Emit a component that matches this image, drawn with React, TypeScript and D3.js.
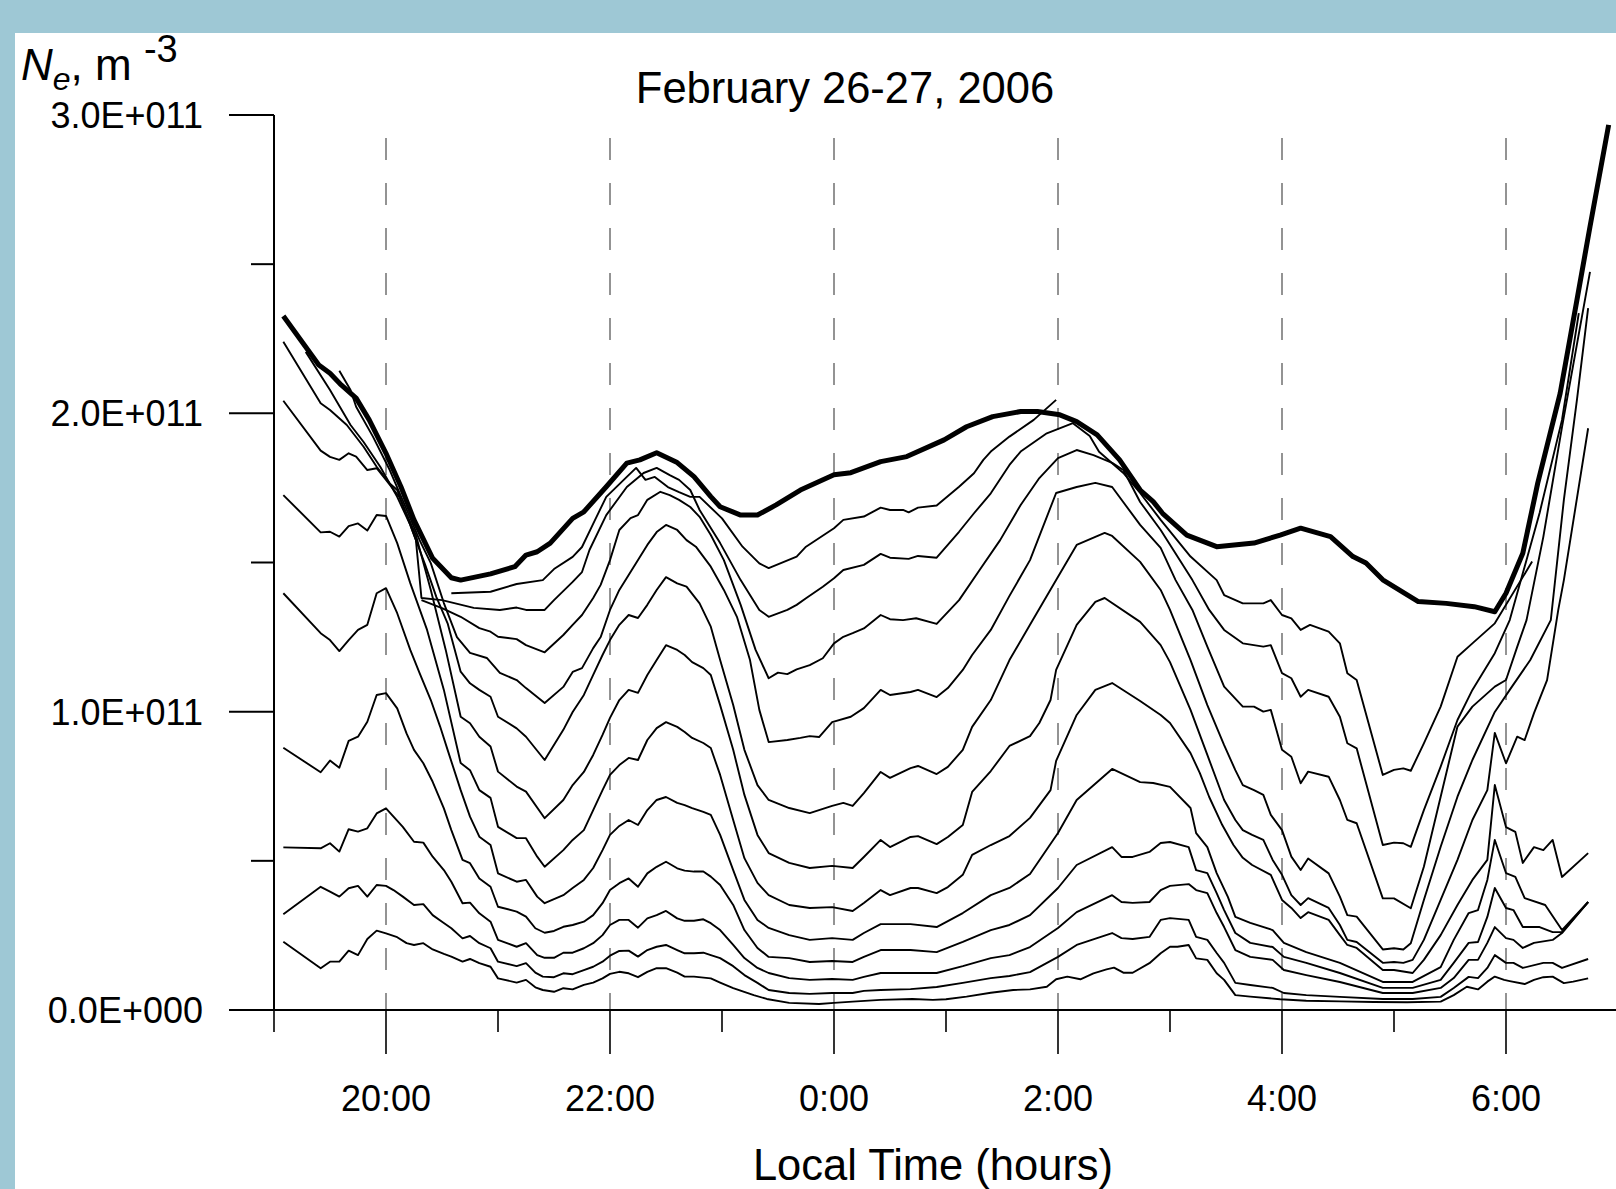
import React from "react";
import * as d3 from "d3";

// Time: minutes after 19:00 LT.  Ne: units of 1e9 m^-3.
type P = [number, number];

const ne00: P[] = [[5,232.6],[24,216.2],[30,213.4],[36,209.5],[44,205.1],[51,197.8],[60,186.6],[68,175.4],[75,164.3],[85,151.4],[95,144.9],[100,144.1],[116,146.2],[129,148.6],[135,152.5],[141,153.6],[148,156.5],[160,164.8],[166,167.0],[178,175.4],[189,183.3],[196,184.4],[205,186.8],[216,183.5],[225,178.8],[234,172.1],[239,168.7],[250,165.9],[259,165.9],[269,169.3],[282,174.3],[300,179.4],[309,180.1],[325,183.8],[339,185.5],[359,191.1],[371,195.5],[385,198.9],[400,200.6],[409,200.6],[421,199.5],[430,197.2],[441,192.8],[453,184.4],[464,174.3],[471,170.4],[476,166.5],[489,159.2],[505,155.3],[525,156.5],[539,159.2],[550,161.5],[566,158.7],[578,152.0],[585,149.8],[594,144.2],[613,136.9],[628,136.3],[643,135.2],[654,133.5],[660,139.7],[669,153.1],[677,176.6],[689,206.7],[698,238.0],[705,262.6],[715,296.7]];

const ne01: P[] = [[95,139.7],[116,140.2],[130,142.8],[144,144.1],[150,147.8],[160,151.9],[165,155.2],[172,164.3],[178,172.0],[189,178.7],[194,181.7],[199,177.7],[204,178.7],[211,175.3],[217,173.6],[223,172.0],[228,172.0],[240,164.8],[251,155.3],[260,149.7],[265,148.1],[280,152.0],[285,155.3],[300,161.5],[305,164.3],[316,165.4],[325,168.4],[330,167.6],[337,167.6],[340,166.8],[345,168.4],[355,169.1],[367,175.4],[375,179.9],[380,184.4],[384,187.2],[394,192.2],[407,197.8],[419,204.5]];

const ne02: P[] = [[17,220.6],[30,207.8],[41,196.1],[48,190.4],[57,182.0],[66,172.0],[73,162.6],[76,157.6],[79,138.1],[90,137.4],[107,134.8],[121,134.1],[130,134.9],[135,134.1],[145,134.1],[150,137.4],[160,143.5],[165,146.8],[169,154.2],[178,165.9],[189,175.3],[198,180.0],[205,181.7],[212,179.3],[217,177.7],[223,174.3],[228,167.6],[239,156.5],[250,144.1],[260,134.1],[265,131.8],[275,134.1],[280,135.8],[285,138.0],[294,141.9],[300,144.7],[305,147.5],[316,149.2],[325,152.9],[330,151.6],[340,151.2],[345,152.2],[355,151.6],[367,160.3],[375,166.5],[384,173.2],[394,182.7],[400,187.2],[414,193.3],[428,196.7],[437,192.4],[442,187.1],[455,180.0],[464,173.3],[475,164.3],[491,152.0],[505,144.1],[509,139.1],[519,136.3],[530,136.3],[534,137.4],[540,132.4],[545,131.3],[550,127.4],[555,129.1],[565,126.8],[571,122.9],[575,112.9],[580,110.6],[594,78.8],[600,80.5],[605,81.0],[609,80.2],[616,89.4],[625,101.7],[634,118.4],[642,122.9],[654,129.6],[674,150.3]];

const ne03: P[] = [[79,137.4],[90,134.7],[100,131.8],[110,128.0],[116,126.8],[120,125.1],[130,124.3],[135,122.3],[145,119.9],[155,125.7],[160,129.1],[165,132.4],[171,138.1],[175,142.5],[180,150.8],[185,160.9],[191,164.9],[195,165.9],[200,171.0],[207,173.7],[212,172.6],[217,171.0],[223,168.6],[228,165.3],[234,159.2],[241,150.8],[250,135.8],[258,120.7],[265,111.2],[270,113.1],[275,112.6],[280,114.2],[287,115.6],[294,117.9],[300,122.9],[305,125.1],[310,126.3],[316,127.9],[325,132.4],[330,131.0],[337,130.7],[344,131.3],[355,129.4],[367,137.4],[378,147.5],[389,157.5],[400,169.3],[410,178.3],[420,185.0],[430,187.7],[439,186.0],[449,183.4],[455,181.0],[464,170.3],[475,160.9],[492,144.1],[501,134.1],[509,127.4],[519,122.9],[530,121.8],[534,122.3],[540,112.9],[545,111.2],[550,105.0],[554,107.3],[565,105.0],[571,98.3],[575,89.4],[580,87.7],[594,55.3],[600,56.1],[605,55.9],[609,54.7],[616,67.0],[625,81.6],[634,97.2],[642,107.3],[654,119.6],[662,130.7],[678,166.6],[690,197.8],[699,233.6]];

const ne04: P[] = [[35,214.3],[41,207.8],[44,202.2],[53,192.2],[62,181.0],[70,169.3],[78,157.5],[84,149.8],[91,136.4],[98,125.0],[105,119.7],[114,118.0],[121,113.0],[130,110.6],[135,107.9],[145,102.9],[155,108.3],[160,113.3],[165,114.6],[171,121.3],[175,125.0],[180,134.1],[185,140.8],[190,145.8],[195,150.8],[200,155.9],[205,160.2],[210,162.6],[216,160.9],[221,157.5],[226,155.3],[234,148.6],[241,140.8],[248,131.8],[255,117.3],[260,100.6],[265,89.8],[275,90.5],[282,91.2],[287,91.8],[292,91.5],[299,96.5],[309,98.3],[316,101.2],[325,107.3],[330,105.6],[341,106.6],[345,107.3],[355,104.9],[361,107.9],[369,114.0],[374,119.0],[384,127.4],[394,138.8],[405,150.8],[419,173.3],[430,175.3],[440,176.7],[449,175.3],[464,162.6],[475,154.9],[483,144.1],[492,134.1],[500,121.8],[509,108.4],[519,101.7],[525,101.7],[530,100.0],[534,100.6],[540,87.2],[545,84.9],[550,76.0],[554,79.9],[565,78.2],[571,70.4],[575,63.7],[580,62.6],[594,37.4],[600,37.4],[609,34.1],[616,48.0],[625,71.5],[634,95.0],[642,101.7],[654,108.4],[660,110.6],[666,121.7],[671,130.7],[680,158.6],[690,195.4],[705,247.4]];

const ne05: P[] = [[5,224.0],[25,203.4],[30,201.1],[39,196.1],[48,188.8],[55,182.1],[62,176.5],[66,174.3],[73,162.6],[81,149.2],[87,138.4],[93,129.6],[100,113.4],[105,109.5],[110,107.3],[116,105.0],[120,98.3],[130,94.4],[135,91.6],[145,83.8],[155,93.9],[160,99.9],[166,105.6],[171,112.3],[176,119.0],[180,124.0],[185,129.1],[190,132.4],[195,131.4],[200,135.8],[205,140.8],[210,145.1],[216,143.0],[221,141.9],[228,136.3],[234,128.5],[239,117.3],[246,102.2],[252,87.2],[259,75.4],[265,70.4],[276,67.7],[287,66.0],[299,68.4],[305,69.4],[310,68.4],[316,72.7],[325,79.8],[330,77.8],[341,81.1],[345,81.8],[355,79.1],[361,81.5],[369,87.2],[374,94.9],[384,103.9],[394,117.3],[405,129.1],[419,144.1],[430,155.9],[440,158.6],[445,159.9],[449,158.9],[464,150.2],[475,140.8],[480,134.1],[491,117.3],[500,102.2],[509,88.8],[515,80.4],[519,75.4],[525,73.7],[530,72.1],[534,65.4],[540,60.3],[545,51.4],[550,46.9],[554,50.8],[565,45.8],[571,38.0],[575,31.8],[580,31.3],[594,20.3],[600,20.7],[605,20.3],[609,22.4],[616,36.9],[625,54.7],[634,71.5],[642,83.8],[654,99.9],[662,107.3],[673,117.3],[684,130.7],[691,171.0],[698,204.5],[704,235.3]];

const ne06: P[] = [[5,204.2],[25,187.5],[30,185.4],[35,184.4],[40,186.6],[44,185.5],[50,181.0],[55,181.6],[60,177.7],[67,172.1],[76,159.2],[84,140.8],[92,120.7],[100,98.3],[105,96.1],[110,91.6],[116,88.3],[120,79.9],[130,74.9],[135,73.2],[145,64.3],[155,70.4],[160,75.4],[166,79.8],[171,85.5],[176,92.2],[180,97.9],[185,103.9],[190,107.3],[195,106.3],[200,112.3],[205,117.3],[210,122.3],[216,120.7],[220,119.0],[224,116.6],[230,114.6],[234,112.3],[239,102.2],[246,87.2],[252,72.1],[259,58.7],[265,52.6],[276,49.3],[287,47.6],[299,48.3],[310,47.6],[316,51.3],[325,57.0],[330,54.6],[341,58.0],[345,58.3],[355,55.6],[361,58.0],[369,62.0],[374,73.1],[384,80.1],[394,88.5],[405,91.8],[410,96.2],[416,103.9],[419,114.0],[430,129.1],[440,136.8],[445,138.1],[464,130.1],[475,122.3],[480,116.6],[491,100.6],[500,85.5],[509,70.4],[515,63.7],[519,60.3],[524,58.7],[530,57.0],[535,50.3],[540,45.3],[545,38.5],[550,35.2],[554,37.5],[565,34.2],[571,28.5],[575,23.5],[580,22.8],[594,15.8],[600,16.1],[605,15.8],[610,16.8],[616,23.5],[625,36.9],[634,50.3],[642,63.7],[650,73.7],[654,92.9],[660,82.7],[666,91.6],[670,90.5],[675,99.5],[682,110.6],[688,134.1],[691,144.1],[704,195.0]];

const ne07: P[] = [[5,172.6],[25,160.1],[30,160.3],[35,158.7],[40,162.2],[45,163.1],[50,160.7],[55,165.9],[60,165.6],[66,156.5],[73,143.1],[82,127.4],[91,107.3],[100,82.8],[105,80.4],[110,73.7],[116,71.1],[120,61.4],[130,57.6],[135,57.6],[141,51.4],[145,48.0],[155,53.6],[160,57.0],[166,60.3],[171,67.0],[176,73.7],[180,78.8],[185,82.1],[190,84.5],[195,83.8],[200,90.5],[205,94.5],[210,96.5],[216,94.9],[220,93.2],[224,91.2],[230,89.5],[234,87.8],[239,78.8],[246,63.7],[252,50.9],[259,42.6],[265,38.5],[276,35.2],[287,34.2],[299,34.5],[310,33.2],[316,35.9],[325,40.2],[330,38.5],[341,40.9],[345,40.9],[355,39.2],[361,41.2],[369,45.3],[374,52.0],[384,55.3],[394,58.3],[405,64.4],[416,73.7],[419,83.5],[430,98.9],[440,107.3],[449,109.6],[464,103.6],[475,98.9],[480,96.2],[491,86.1],[496,79.4],[501,71.4],[508,62.0],[514,55.3],[519,51.0],[524,48.6],[534,45.3],[540,36.9],[545,34.2],[550,30.8],[554,32.8],[565,30.2],[571,25.1],[575,21.8],[580,20.8],[594,13.4],[600,13.4],[610,12.4],[616,16.8],[625,25.1],[634,35.2],[642,43.6],[650,50.3],[654,75.4],[660,61.3],[665,59.7],[669,49.3],[675,54.6],[680,53.6],[685,57.0],[690,44.6],[704,52.6]];

const ne08: P[] = [[5,139.7],[25,126.3],[30,124.0],[35,120.3],[40,124.0],[45,127.4],[50,129.1],[55,139.7],[60,141.4],[66,133.0],[73,120.7],[78,112.9],[84,103.9],[89,95.0],[93,87.2],[100,73.7],[105,64.8],[110,58.1],[116,55.3],[120,45.8],[130,43.0],[135,43.6],[141,38.0],[145,35.8],[155,38.5],[160,40.9],[166,43.6],[171,47.6],[176,53.6],[180,58.7],[185,61.7],[190,63.7],[195,62.0],[200,67.0],[205,70.4],[210,71.4],[216,69.4],[220,68.7],[224,67.7],[230,66.4],[234,65.4],[239,58.7],[246,46.9],[252,36.9],[259,30.2],[265,27.5],[276,25.1],[287,23.5],[299,24.1],[310,23.5],[316,25.8],[325,28.8],[341,28.8],[355,27.8],[369,32.5],[384,38.5],[394,40.9],[405,45.6],[420,59.3],[430,70.4],[449,80.8],[464,76.4],[471,76.1],[480,74.8],[491,67.7],[494,59.3],[500,54.6],[505,45.9],[511,37.9],[515,31.2],[523,29.2],[535,26.8],[541,22.5],[553,19.4],[571,15.8],[594,9.4],[610,9.4],[625,14.4],[632,23.5],[640,32.5],[645,33.5],[650,43.6],[654,57.0],[660,45.9],[665,44.6],[670,37.5],[681,35.2],[690,26.8],[704,36.2]];

const ne09: P[] = [[5,87.9],[25,79.7],[30,83.6],[35,81.2],[40,90.2],[45,91.6],[50,96.6],[55,105.6],[60,106.2],[66,101.1],[71,92.7],[75,87.2],[80,82.7],[85,76.5],[91,67.6],[95,60.3],[101,50.3],[105,49.2],[110,44.1],[116,41.3],[120,34.6],[130,33.0],[135,31.3],[140,27.4],[145,25.9],[150,26.5],[155,27.9],[160,28.5],[166,29.6],[171,31.8],[176,35.8],[180,40.2],[185,42.5],[190,44.1],[195,41.3],[200,45.8],[205,48.0],[210,49.7],[216,47.5],[220,46.7],[225,46.4],[230,46.4],[234,44.7],[239,41.9],[246,35.2],[252,26.8],[259,20.8],[265,17.8],[276,17.4],[287,16.1],[299,16.4],[310,16.1],[316,17.8],[325,20.1],[341,20.1],[355,19.4],[369,22.8],[384,26.8],[394,28.5],[405,31.8],[420,40.9],[430,48.6],[449,54.6],[454,51.3],[460,51.3],[469,53.0],[475,56.0],[480,56.3],[490,54.6],[494,46.9],[500,45.9],[505,39.2],[509,33.5],[515,25.8],[523,22.5],[535,21.1],[541,17.8],[553,15.8],[571,12.4],[594,7.4],[610,7.4],[625,10.1],[632,15.8],[640,22.5],[645,22.8],[650,31.2],[654,40.9],[660,34.2],[664,33.5],[669,27.8],[678,27.8],[685,26.1],[690,26.1],[704,36.2]];

const ne10: P[] = [[5,54.5],[25,54.2],[30,55.9],[35,53.1],[40,60.6],[45,59.8],[50,60.9],[55,65.9],[60,67.6],[69,61.4],[75,56.4],[80,56.1],[85,51.4],[91,46.9],[95,43.0],[101,35.8],[105,36.0],[110,32.4],[116,29.6],[120,23.5],[130,21.2],[135,22.4],[141,18.4],[145,17.5],[150,17.5],[155,19.2],[160,19.2],[166,20.7],[171,22.4],[176,25.1],[180,28.5],[185,30.2],[190,30.2],[195,27.6],[200,30.7],[205,31.8],[210,33.2],[216,30.7],[220,29.9],[225,29.9],[230,30.4],[234,29.1],[239,26.8],[246,21.8],[252,17.4],[259,14.1],[265,12.4],[276,10.7],[287,10.1],[299,10.4],[310,10.1],[316,11.1],[325,12.4],[341,12.4],[355,12.4],[369,14.7],[384,17.4],[394,18.4],[405,21.1],[420,27.5],[430,32.8],[449,38.5],[454,36.2],[460,35.9],[469,36.2],[475,40.2],[480,41.6],[490,42.2],[494,40.2],[500,39.2],[505,32.5],[509,27.8],[515,20.1],[523,17.8],[535,16.8],[541,13.4],[553,11.7],[571,9.4],[594,5.7],[610,5.7],[625,7.4],[632,10.7],[640,16.8],[645,16.8],[650,22.5],[654,27.8],[660,24.1],[664,23.5],[669,20.8],[675,22.5],[685,23.5],[690,25.8],[704,36.2]];

const ne11: P[] = [[5,32.1],[25,41.3],[30,39.7],[35,38.0],[40,40.8],[45,41.6],[50,38.0],[55,41.9],[60,41.6],[64,40.2],[69,38.0],[75,35.2],[80,35.5],[85,31.8],[90,29.6],[95,27.4],[101,24.0],[105,24.8],[110,22.4],[116,20.7],[120,16.2],[130,14.7],[135,15.7],[140,12.5],[144,11.2],[150,11.0],[155,12.3],[160,12.0],[166,13.4],[171,14.5],[176,16.2],[180,18.2],[185,19.8],[190,19.9],[195,17.9],[200,20.1],[205,21.2],[210,21.8],[216,20.1],[220,19.0],[225,19.0],[230,19.2],[234,18.4],[239,17.4],[246,14.7],[252,11.7],[259,9.1],[265,6.7],[276,5.7],[287,5.4],[299,5.7],[310,5.7],[316,6.4],[325,6.7],[341,7.0],[355,7.7],[369,9.1],[384,10.7],[394,11.4],[405,12.7],[420,17.8],[430,21.8],[449,25.8],[454,24.1],[460,23.8],[469,24.5],[475,30.2],[480,30.8],[490,30.2],[494,24.5],[500,23.5],[505,19.1],[509,15.8],[515,9.1],[523,8.4],[535,7.4],[541,5.7],[553,5.0],[571,4.4],[594,3.7],[610,3.7],[625,4.4],[632,7.4],[640,11.1],[645,10.7],[650,14.1],[654,18.4],[660,15.8],[664,15.8],[669,14.1],[680,15.8],[685,15.8],[690,14.1],[704,17.1]];

const ne12: P[] = [[5,22.9],[25,14.0],[30,16.2],[35,16.2],[40,19.9],[45,18.4],[50,23.8],[55,26.6],[60,25.7],[66,24.4],[71,22.4],[75,21.8],[80,22.4],[85,20.3],[91,18.8],[95,17.9],[101,16.2],[105,17.1],[110,15.7],[116,14.5],[120,10.6],[130,9.2],[135,10.1],[140,7.6],[144,6.7],[150,6.1],[155,7.3],[160,6.9],[166,8.4],[171,9.2],[176,10.6],[180,12.1],[185,12.8],[190,12.3],[195,11.0],[200,12.8],[205,14.0],[210,14.0],[216,12.5],[220,11.2],[225,11.2],[234,10.6],[239,9.2],[246,7.3],[257,5.0],[264,3.7],[276,2.4],[292,2.0],[300,2.4],[310,2.8],[325,3.4],[342,3.7],[353,3.4],[360,3.6],[371,4.5],[384,5.8],[396,6.7],[405,6.9],[414,7.8],[419,10.3],[425,11.2],[432,10.3],[439,12.3],[446,13.6],[450,14.2],[455,12.5],[460,12.5],[469,15.7],[475,19.0],[480,21.2],[484,21.2],[490,21.8],[494,17.3],[500,16.8],[505,12.3],[509,10.1],[515,5.0],[523,4.5],[539,3.6],[553,3.1],[571,2.9],[589,2.7],[607,2.6],[625,2.8],[632,5.0],[639,7.8],[645,6.9],[650,9.5],[654,11.2],[659,10.1],[662,9.7],[670,8.7],[675,10.1],[680,11.0],[685,11.2],[691,9.0],[696,9.5],[704,10.6]];

const thinSeries: P[][] = [ne01, ne02, ne03, ne04, ne05, ne06, ne07, ne08, ne09, ne10, ne11, ne12];

const xMajorTicks = [60, 180, 300, 420, 540, 660];
const xMajorLabels = ["20:00", "22:00", "0:00", "2:00", "4:00", "6:00"];
const xMinorTicks = [0, 120, 240, 360, 480, 600];
const yMajorTicks = [0, 100, 200, 300];
const yMajorLabels = ["0.0E+000", "1.0E+011", "2.0E+011", "3.0E+011"];
const yMinorTicks = [50, 150, 250];

const title = "February 26-27, 2006";
const xTitle = "Local Time (hours)";

const W = 1616;
const H = 1189;
const FONT = "'Liberation Sans', Arial, Helvetica, sans-serif";

export default function App() {
  const x = d3.scaleLinear().domain([0, 720]).range([274, 274 + 720 * (112 / 60)]);
  const y = d3.scaleLinear().domain([0, 300]).range([1010, 115]);
  const line = d3
    .line<P>()
    .x((d) => x(d[0]))
    .y((d) => y(d[1]));

  const x0 = x(0);
  const y0 = y(0);

  return (
    <div>
      <style>{"html,body{margin:0;padding:0;overflow:hidden;background:#fff}"}</style>
      <svg width={W} height={H} style={{ display: "block" }} fontFamily={FONT}>
        <rect x={0} y={0} width={W} height={H} fill="#ffffff" />
        <rect x={0} y={0} width={W} height={33} fill="#9ec8d5" />
        <rect x={0} y={0} width={15} height={H} fill="#9ec8d5" />

        {/* dashed verticals at major hours */}
        {xMajorTicks.map((t) => (
          <line
            key={"g" + t}
            x1={x(t)}
            x2={x(t)}
            y1={y(292.3)}
            y2={y0}
            stroke="#707070"
            strokeWidth={1.5}
            strokeDasharray="22 23"
          />
        ))}

        {/* series */}
        {thinSeries.map((s, i) => (
          <path
            key={"s" + i}
            d={line(s) || ""}
            fill="none"
            stroke="#000"
            strokeWidth={1.9}
            strokeLinejoin="round"
          />
        ))}
        <path d={line(ne00) || ""} fill="none" stroke="#000" strokeWidth={5} strokeLinejoin="round" />

        {/* axes */}
        <line x1={x0} x2={x0} y1={y(300)} y2={y0} stroke="#000" strokeWidth={2} />
        <line x1={x0} x2={W} y1={y0} y2={y0} stroke="#000" strokeWidth={2.2} />
        {yMajorTicks.map((v, i) => (
          <g key={"ym" + v}>
            <line x1={x0 - 45} x2={x0} y1={y(v)} y2={y(v)} stroke="#000" strokeWidth={2} />
            <text x={203} y={y(v) + 13} fontSize={36} textAnchor="end" fill="#000">
              {yMajorLabels[i]}
            </text>
          </g>
        ))}
        {yMinorTicks.map((v) => (
          <line key={"yn" + v} x1={x0 - 23} x2={x0} y1={y(v)} y2={y(v)} stroke="#000" strokeWidth={2} />
        ))}
        {xMajorTicks.map((t, i) => (
          <g key={"xm" + t}>
            <line x1={x(t)} x2={x(t)} y1={y0} y2={y0 + 44} stroke="#000" strokeWidth={1.6} />
            <text x={x(t)} y={1111} fontSize={36} textAnchor="middle" fill="#000">
              {xMajorLabels[i]}
            </text>
          </g>
        ))}
        {xMinorTicks.map((t) => (
          <line key={"xn" + t} x1={x(t)} x2={x(t)} y1={y0} y2={y0 + 22} stroke="#000" strokeWidth={1.6} />
        ))}

        <text x={933} y={1180} fontSize={43.5} textAnchor="middle" fill="#000">
          {xTitle}
        </text>
        <text x={845} y={103} fontSize={43.5} textAnchor="middle" fill="#000">
          {title}
        </text>

        {/* y axis label */}
        <text x={21} y={80} fontSize={44} fill="#000">
          <tspan fontStyle="italic">N</tspan>
          <tspan fontSize={32} fontStyle="italic" dy={10}>e</tspan>
          <tspan dy={-10}>, m </tspan>
          <tspan fontSize={38} dy={-18}>-3</tspan>
        </text>
      </svg>
    </div>
  );
}
